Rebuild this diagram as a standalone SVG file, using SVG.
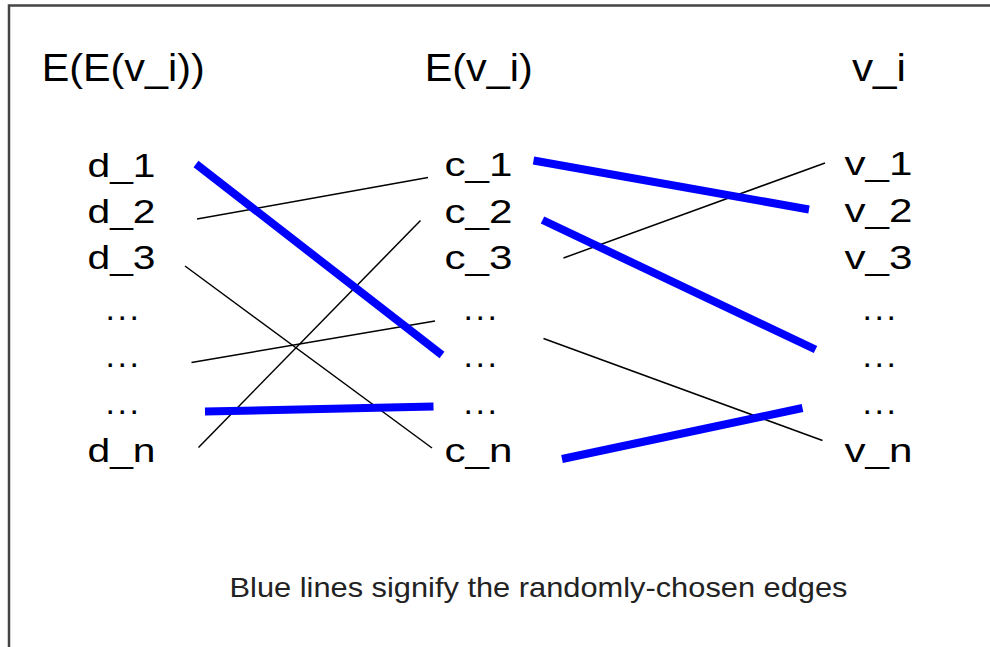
<svg xmlns="http://www.w3.org/2000/svg" width="990" height="647" viewBox="0 0 990 647">
<style>
.hd{font-family:"Liberation Sans",Arial,sans-serif;font-size:39px;fill:#000}
.lb{font-family:"Liberation Sans",Arial,sans-serif;font-size:34px;fill:#000}
.dt{font-family:"Liberation Sans",Arial,sans-serif;font-size:34px;fill:#000;letter-spacing:2.5px}
.ft{font-family:"Liberation Sans",Arial,sans-serif;font-size:28px;fill:#222}
.thin{stroke:#000;stroke-width:1.5;fill:none}
.blue{stroke:#0000ff;stroke-width:8;fill:none}
</style>
<rect x="0" y="0" width="990" height="647" fill="#fff"/>
<rect id="frame" x="9" y="5.5" width="1100" height="800" fill="none" stroke="#444" stroke-width="2.5"/>
<g id="headers">
<text id="h-left" class="hd" x="41.7" y="81" textLength="163" lengthAdjust="spacingAndGlyphs">E(E(v_i))</text>
<text id="h-mid" class="hd" x="424.7" y="81" textLength="108" lengthAdjust="spacingAndGlyphs">E(v_i)</text>
<text id="h-right" class="hd" x="852" y="81" textLength="54" lengthAdjust="spacingAndGlyphs">v_i</text>
</g>
<g id="col-d">
<g id="d1"><text class="lb" x="87.5" y="177" textLength="68" lengthAdjust="spacingAndGlyphs">d_1</text></g>
<g id="d2"><text class="lb" x="87.5" y="223" textLength="68" lengthAdjust="spacingAndGlyphs">d_2</text></g>
<g id="d3"><text class="lb" x="87.5" y="269" textLength="68" lengthAdjust="spacingAndGlyphs">d_3</text></g>
<g id="d4"><text class="dt" x="105.6" y="320">...</text></g>
<g id="d5"><text class="dt" x="105.6" y="367">...</text></g>
<g id="d6"><text class="dt" x="105.6" y="414">...</text></g>
<g id="dn"><text class="lb" x="87.5" y="462" textLength="68" lengthAdjust="spacingAndGlyphs">d_n</text></g>
</g>
<g id="col-c">
<g id="c1"><text class="lb" x="444.5" y="176" textLength="68" lengthAdjust="spacingAndGlyphs">c_1</text></g>
<g id="c2"><text class="lb" x="444.5" y="223" textLength="68" lengthAdjust="spacingAndGlyphs">c_2</text></g>
<g id="c3"><text class="lb" x="444.5" y="269" textLength="68" lengthAdjust="spacingAndGlyphs">c_3</text></g>
<g id="c4"><text class="dt" x="463.6" y="320">...</text></g>
<g id="c5"><text class="dt" x="463.6" y="367">...</text></g>
<g id="c6"><text class="dt" x="463.6" y="414">...</text></g>
<g id="cn"><text class="lb" x="444.5" y="462" textLength="68" lengthAdjust="spacingAndGlyphs">c_n</text></g>
</g>
<g id="col-v">
<g id="v1"><text class="lb" x="844.5" y="175" textLength="68" lengthAdjust="spacingAndGlyphs">v_1</text></g>
<g id="v2"><text class="lb" x="844.5" y="222" textLength="68" lengthAdjust="spacingAndGlyphs">v_2</text></g>
<g id="v3"><text class="lb" x="844.5" y="269" textLength="68" lengthAdjust="spacingAndGlyphs">v_3</text></g>
<g id="v4"><text class="dt" x="862.6" y="320">...</text></g>
<g id="v5"><text class="dt" x="862.6" y="367">...</text></g>
<g id="v6"><text class="dt" x="862.6" y="414">...</text></g>
<g id="vn"><text class="lb" x="844.5" y="462" textLength="68" lengthAdjust="spacingAndGlyphs">v_n</text></g>
</g>
<g id="connectors">
<line class="thin" x1="197" y1="219" x2="428" y2="177.5"/>
<line class="thin" x1="185" y1="266" x2="432" y2="448"/>
<line class="thin" x1="191.5" y1="362.5" x2="435" y2="321"/>
<line class="thin" x1="198.5" y1="447.5" x2="420.5" y2="220.5"/>
<line class="thin" x1="563.5" y1="258" x2="825" y2="163"/>
<line class="thin" x1="543.5" y1="338.5" x2="822.5" y2="440.5"/>
<line class="blue" x1="196" y1="164" x2="442" y2="355"/>
<line class="blue" x1="205" y1="411.5" x2="433.5" y2="406.5"/>
<line class="blue" x1="533.5" y1="160.5" x2="809" y2="209.5"/>
<line class="blue" x1="542.5" y1="220" x2="815.5" y2="349.5"/>
<line class="blue" x1="562" y1="459" x2="802.5" y2="408"/>
</g>
<text id="caption" class="ft" x="229.5" y="597" textLength="618" lengthAdjust="spacingAndGlyphs">Blue lines signify the randomly-chosen edges</text>
</svg>
